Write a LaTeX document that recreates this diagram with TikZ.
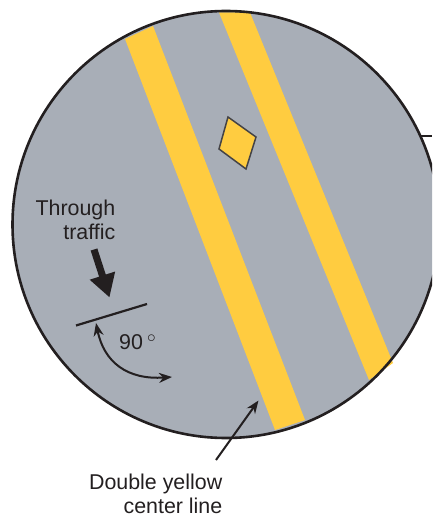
\documentclass[tikz,border=0pt]{standalone}
\usepackage{fontspec}
\setmainfont{Liberation Sans}
\usetikzlibrary{arrows.meta}
\definecolor{roadgray}{RGB}{168,174,183}
\definecolor{lineyellow}{RGB}{255,204,64}
\definecolor{inkblack}{RGB}{35,31,32}
\tikzset{
  label text/.style={font=\fontsize{21.4}{24}\selectfont, text=inkblack, inner sep=0pt, align=right},
  stripe/.style={fill=lineyellow, draw=none},
  thin arrow/.style={draw=inkblack, line width=2pt, -{Stealth[length=13pt,width=10pt]}},
}
\begin{document}
\begin{tikzpicture}[x=1pt,y=-1pt]
\useasboundingbox (0,0) rectangle (432,518);
\begin{scope}
\clip (0,0) rectangle (432,518);
\fill[roadgray] (226,224.5) circle[radius=213.5];
\fill[stripe] (125,39) -- (153,26) -- (305,420) -- (275,430) -- cycle;
\fill[stripe] (219,12.5) -- (250,12.5) -- (393,363) -- (369,380) -- cycle;
\draw[inkblack,line width=2.6pt] (226,224.5) circle[radius=213.5];
\coordinate (tickA) at (421,136);
\coordinate (tickB) at (432,136);
\draw[inkblack,line width=2pt] (tickA) -- (tickB);
\end{scope}
\draw[stripe,draw=inkblack!75!roadgray,line width=1.5pt,line join=miter,fill=lineyellow]
  (228,117) -- (256,137) -- (246,169) -- (219,149) -- cycle;
\node[label text,anchor=base east] (through) at (115.5,215.5) {Through};
\node[label text,anchor=base east] (traffic) at (115.5,239) {traffic};
\coordinate (bigA) at (94,249.5);
\coordinate (bigB) at (109.5,297.5);
\draw[inkblack,line width=7pt,-{Triangle[length=23pt,width=25pt]}] (bigA) -- (bigB);
\coordinate (lineA) at (76,325.5);
\coordinate (lineB) at (147,304);
\draw[inkblack,line width=2.2pt] (lineA) -- (lineB);
\coordinate (arcA) at (172,377);
\coordinate (arcB) at (96,323);
\draw[thin arrow,{Stealth[length=13pt,width=10pt]}-{Stealth[length=13pt,width=10pt]}]
  (arcB) .. controls (104,362) and (127,380) .. (arcA);
\node[label text,anchor=base west] (angle) at (119,349) {90};
\node[anchor=base west,inner sep=0pt,text=inkblack,font=\fontsize{17}{19}\selectfont] (deg) at (147,342) {$\circ$};
\node[label text,anchor=base east] (dbl) at (222.5,489) {Double yellow};
\node[label text,anchor=base east] (ctr) at (222.5,513) {center line};
\coordinate (ptrA) at (216,460);
\coordinate (ptrB) at (258.5,400.5);
\draw[thin arrow] (ptrA) -- (ptrB);
\end{tikzpicture}
\end{document}
